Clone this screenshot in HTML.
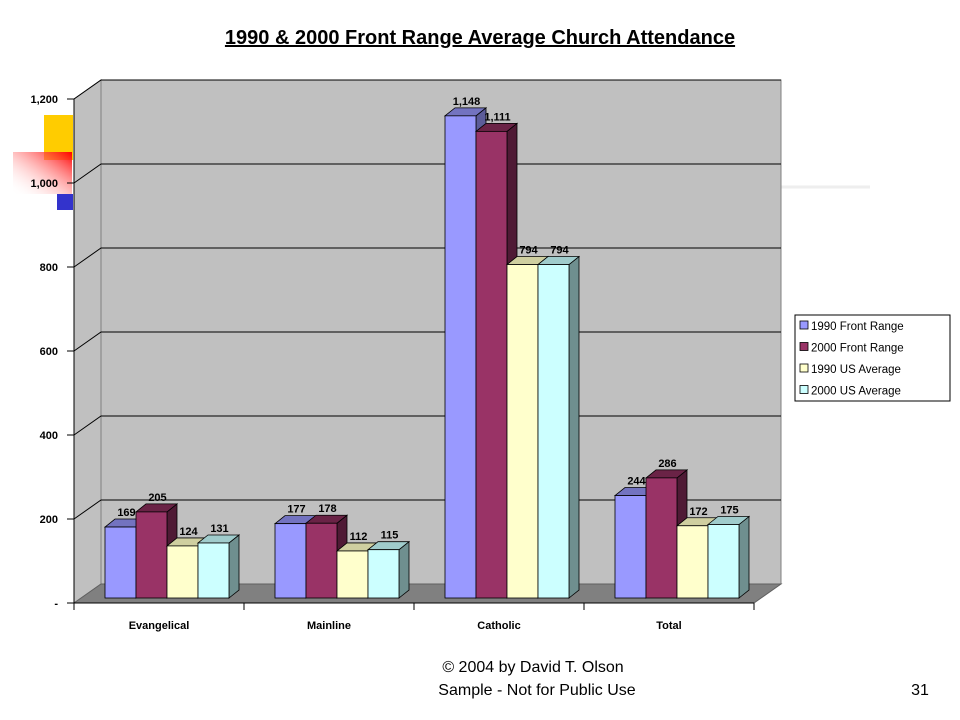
<!DOCTYPE html>
<html><head><meta charset="utf-8"><style>
body{margin:0;background:#fff;width:960px;height:720px;overflow:hidden;font-family:"Liberation Sans",Arial,sans-serif}
svg{display:block}
</style></head><body>
<svg id="c" width="960" height="720" xmlns="http://www.w3.org/2000/svg">
<defs><linearGradient id="rg" x1="1" y1="0" x2="0" y2="1"><stop offset="0" stop-color="#ff0000"/><stop offset="1" stop-color="#ffffff" stop-opacity="0"/></linearGradient></defs>
<text x="480" y="44" text-anchor="middle" font-size="20" font-weight="bold" text-decoration="underline">1990 &amp; 2000 Front Range Average Church Attendance</text>
<rect x="44" y="115" width="29" height="45" fill="#ffcc00"/>
<rect x="57" y="194" width="16" height="16" fill="#3333cc"/>
<rect x="13" y="152" width="59" height="42" fill="url(#rg)"/>
<line x1="780" y1="187" x2="870" y2="187" stroke="#eee" stroke-width="3"/>
<g id="plot"></g>
<g>
<rect x="795" y="315" width="155" height="86" fill="#fff" stroke="#000"/>
<g id="leg"></g>
</g>
<text x="533" y="672" text-anchor="middle" font-size="16">© 2004 by David T. Olson</text>
<text x="537" y="695" text-anchor="middle" font-size="16">Sample - Not for Public Use</text>
<text x="920" y="695" text-anchor="middle" font-size="16">31</text>
</svg>
<script>
const categories=["Evangelical","Mainline","Catholic","Total"];
const series=["1990 Front Range","2000 Front Range","1990 US Average","2000 US Average"];
const fr1990=[169,177,1148,244];
const fr2000=[205,178,1111,286];
const us1990=[124,112,794,172];
const us2000=[131,115,794,175];
const yTicks=[0,200,400,600,800,1000,1200];
const yTickLabels=["-","200","400","600","800","1,000","1,200"];
const values=[fr1990,fr2000,us1990,us2000];
const fronts=["#9999ff","#993366","#ffffcc","#ccffff"];
const sides=["#5c5c99","#4f1a35","#9a9a78","#6f8f8f"];
const tops=["#7373c0","#6a2346","#cfcfa0","#a0cccc"];
const NS="http://www.w3.org/2000/svg";
const plot=document.getElementById('plot');
const X0=74,Y0=603,K=0.42,DX=27,DY=-19,W=170;
function y(v){return Y0-v*K;}
function mk(tag,a,p){const e=document.createElementNS(NS,tag);for(const k in a)e.setAttribute(k,a[k]);(p||plot).appendChild(e);return e;}
function fmt(v){return v.toLocaleString('en-US');}
const XR=X0+W*categories.length;
// walls
let e=mk('polygon',{points:`${X0},${y(0)} ${X0+DX},${y(0)+DY} ${X0+DX},${y(1200)+DY} ${X0},${y(1200)}`,fill:'#c0c0c0',stroke:'#808080'});

e=mk('rect',{x:X0+DX,y:y(1200)+DY,width:XR-X0,height:1200*K,fill:'#c0c0c0',stroke:'#808080'});

e=mk('polygon',{points:`${X0},${y(0)} ${X0+DX},${y(0)+DY} ${XR+DX},${y(0)+DY} ${XR},${y(0)}`,fill:'#808080',stroke:'#606060'});

yTicks.forEach((t,i)=>{
 if(t>0){const g=mk('polyline',{points:`${X0},${y(t)} ${X0+DX},${y(t)+DY} ${XR+DX},${y(t)+DY}`,fill:'none',stroke:'#000','stroke-width':1});
 }
 const tk=mk('line',{x1:X0-7,y1:y(t),x2:X0,y2:y(t),stroke:'#000'});
 
 const l=mk('text',{x:X0-16,y:y(t)+4,'text-anchor':'end','font-size':11,'font-weight':'bold'});
 l.textContent=yTickLabels[i];
 
});
let ax=mk('line',{x1:X0,y1:y(0),x2:XR,y2:y(0),stroke:'#000'});

ax=mk('line',{x1:X0,y1:y(0),x2:X0,y2:y(1200),stroke:'#000'});

categories.forEach((c,g)=>{
 for(let k=0;k<=1;k++){if(g==0&&k==0||k==1){const tk=mk('line',{x1:X0+W*(g+k),y1:y(0),x2:X0+W*(g+k),y2:y(0)+7,stroke:'#000'});
 }}
 const l=mk('text',{x:X0+W*g+W/2,y:629,'text-anchor':'middle','font-size':11,'font-weight':'bold'});
 l.textContent=c;
});
const BW=31,bd=10,bdy=-8,base=598;
function by(v){return base-v*K;}
categories.forEach((c,g)=>{
 values.forEach((arr,i)=>{
  const v=arr[g],x=X0+31+W*g+i*BW,t=by(v);
  const grp=mk('g',{});
  
  
  mk('polygon',{points:`${x+BW},${base} ${x+BW+bd},${base+bdy} ${x+BW+bd},${t+bdy} ${x+BW},${t}`,fill:sides[i],stroke:'#000','stroke-width':0.8},grp);
  mk('polygon',{points:`${x},${t} ${x+bd},${t+bdy} ${x+BW+bd},${t+bdy} ${x+BW},${t}`,fill:tops[i],stroke:'#000','stroke-width':0.8},grp);
  mk('rect',{x:x,y:t,width:BW,height:base-t,fill:fronts[i],stroke:'#000','stroke-width':0.8},grp);
  const l=mk('text',{x:x+BW/2+6,y:t+bdy-3,'text-anchor':'middle','font-size':11,'font-weight':'bold'});
  l.textContent=fmt(v);
 });
});
const leg=document.getElementById('leg');
series.forEach((s,i)=>{
 const yy=326+i*21.5;
 const r=mk('rect',{x:800,y:yy-5,width:8,height:8,fill:fronts[i],stroke:'#000','stroke-width':0.8},leg);
 
 const t=mk('text',{x:811,y:yy+4,'font-size':11.5},leg);
 t.textContent=s;
});
</script>
</body></html>
